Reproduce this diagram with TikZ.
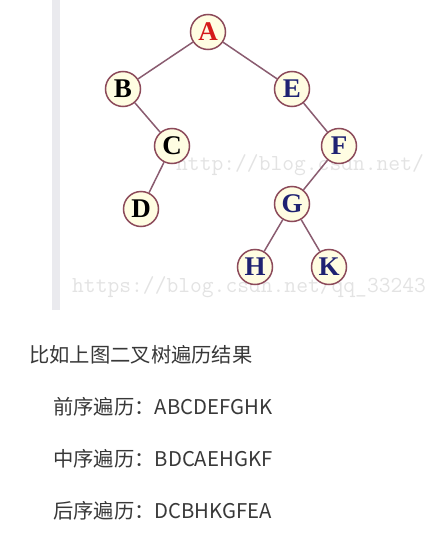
\documentclass[tikz,border=0pt]{standalone}
\usepackage{fontspec}
\newfontfamily\cjkfont{Noto Sans CJK SC}
\newfontfamily\treefont{Liberation Serif}
\usetikzlibrary{positioning}
\definecolor{nodeline}{HTML}{8C4A5A}
\definecolor{nodefill}{HTML}{FFFDE2}
\definecolor{edgecol}{HTML}{8A5C70}
\definecolor{navy}{HTML}{1F2272}
\definecolor{rootred}{HTML}{D41A1A}
\definecolor{wmark}{HTML}{E3E3E3}
\definecolor{bodytext}{HTML}{383838}
\definecolor{sidebar}{HTML}{EAEAEE}

\begin{document}
\begin{tikzpicture}[
    x=1pt, y=-1pt,
    node distance=57pt and 85pt, on grid,
    vertex/.style={circle, draw=nodeline, fill=nodefill, line width=1.5pt, minimum size=35pt, inner sep=0pt, font={\treefont\bfseries\fontsize{27}{27}\selectfont}},
    left/.style={vertex, text=black},
    right/.style={vertex, text=navy},
    edge/.style={draw=edgecol, line width=1.5pt},
    watermark/.style={text=wmark, inner sep=0pt, anchor=base west, font={\ttfamily\fontsize{22.9}{23}\selectfont}},
    caption/.style={text=bodytext, anchor=west, inner sep=0pt, font={\cjkfont\fontsize{20.3}{20}\selectfont}}
  ]
  \useasboundingbox (0,0) rectangle (442,538);

  % Picture frame
  \fill[sidebar] (52,0) rectangle (60,310);
  \begin{scope}
    \clip (60,0) rectangle (442,310);
    \node[watermark] (wm1) at (176,170) {http://blog.csdn.net/};
    \node[watermark] (wm2) at (72,292) {https://blog.csdn.net/qq\_33243};
  \end{scope}

  % Tree nodes
  \node[vertex, text=rootred] (A) at (208,32) {A};
  \node[left, below left=57pt and 85pt of A] (B) {B};
  \node[right, below right=57pt and 84pt of A] (E) {E};
  \node[left, below right=57pt and 49pt of B] (C) {C};
  \node[right, below right=57pt and 47pt of E] (F) {F};
  \node[left, below left=63pt and 31pt of C] (D) {D};
  \node[right, below left=58pt and 47pt of F] (G) {G};
  \node[right, below left=63pt and 37pt of G] (H) {H};
  \node[right, below right=63pt and 37pt of G] (K) {K};

  % Connections
  \draw[edge] (A) -- (B);
  \draw[edge] (A) -- (E);
  \draw[edge] (B) -- (C);
  \draw[edge] (C) -- (D);
  \draw[edge] (E) -- (F);
  \draw[edge] (F) -- (G);
  \draw[edge] (G) -- (H);
  \draw[edge] (G) -- (K);

  % Traversal results
  \node[caption] (intro) at (29,355) {比如上图二叉树遍历结果};
  \node[caption] (pre) at (53,407) {前序遍历：ABCDEFGHK};
  \node[caption] (in) at (53,459) {中序遍历：BDCAEHGKF};
  \node[caption] (post) at (53,511) {后序遍历：DCBHKGFEA};
\end{tikzpicture}
\end{document}
